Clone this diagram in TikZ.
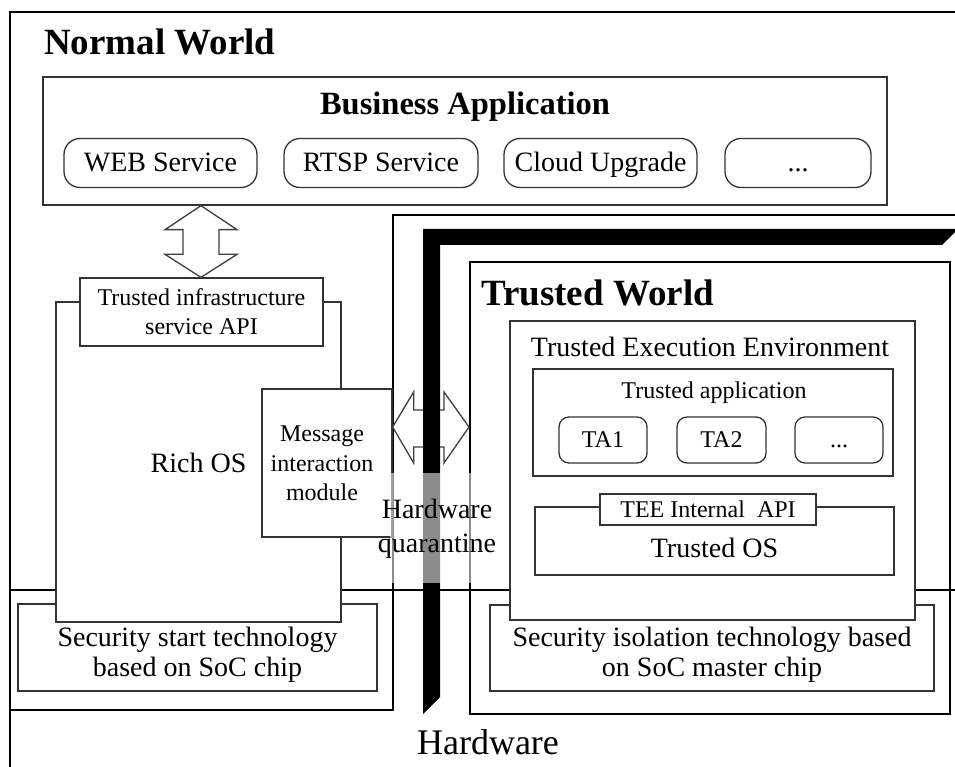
\documentclass[tikz,border=0pt]{standalone}
\usepackage{fontspec}
\setmainfont{Liberation Serif}
\usetikzlibrary{calc}
\newcommand{\fsz}[1]{\fontsize{#1}{#1}\selectfont}
\tikzset{
  frame/.style={draw=black, line width=2pt, inner sep=0pt},
  hwline/.style={draw=black, line width=1.6pt},
  box/.style={draw=black!80, line width=1.3pt, fill=white, inner sep=0pt},
  pill/.style={box, rounded corners=16pt, text height=24pt, text depth=6pt},
  tapill/.style={box, rounded corners=10pt, text height=19pt, text depth=5pt},
  blockarrow/.style={draw=black!75, line width=1.3pt, fill=white, line join=miter},
  wall/.style={fill=black},
  haze/.style={fill=white, fill opacity=0.55, draw=none},
  worldtitle/.style={anchor=west, inner sep=0pt, font=\fsz{37}\bfseries},
  small/.style={inner sep=0pt, align=center, font=\fontsize{24}{29.5}\selectfont},
  mid/.style={inner sep=0pt, align=center, font=\fontsize{28}{30}\selectfont},
}
\begin{document}
\begin{tikzpicture}[x=1pt,y=-1pt]
\useasboundingbox (0,0) rectangle (955,767);
\clip (0,0) rectangle (955,767);
\fill[white] (0,0) rectangle (955,767);

% outer frame, normal-world outline and hardware boundary
\draw[frame] (10,12) rectangle (975,790);
\draw[frame] (10,710) -- (393,710) -- (393,215) -- (975,215);
\draw[hwline] (10,590) -- (975,590);

% trusted world frame
\node[frame, minimum width=480pt, minimum height=452pt] (tw) at (710,488) {};
\node[worldtitle] (twtitle) at (481,293) {Trusted World};

% normal world
\node[worldtitle] (nwtitle) at (44,42) {Normal World};

\node[box, minimum width=844pt, minimum height=128pt] (biz) at (465,141) {};
\node[anchor=base, inner sep=0pt, font=\fsz{32.5}\bfseries] (biztitle) at (465,115) {Business Application};
\node[pill, minimum width=193pt, minimum height=49pt, font=\fsz{28}] (web) at (160.5,163) {WEB Service};
\node[pill, minimum width=194pt, minimum height=49pt, font=\fsz{28}] (rtsp) at (381,163) {RTSP Service};
\node[pill, minimum width=193pt, minimum height=49pt, font=\fsz{28}] (cloud) at (600.5,163) {Cloud Upgrade};
\node[pill, minimum width=146pt, minimum height=49pt, font=\fsz{28}] (more) at (798,163) {...};

% hardware layer, normal side
\node[box, minimum width=359pt, minimum height=87pt] (sst) at (197.5,647.5) {};
\node[mid] (ssttext) at (197.5,655) {Security start technology\\based on SoC chip};

% rich OS with its API and message module
\node[box, minimum width=285pt, minimum height=320pt] (rich) at (198.5,462) {};
\node[mid] (richtext) at (198.5,463) {Rich OS};
\node[box, minimum width=243pt, minimum height=68pt] (api) at (201.5,312) {};
\node[small] (apitext) at (201.5,311.5) {Trusted infrastructure\\service API};
\node[box, minimum width=130pt, minimum height=148pt] (msg) at (327,463) {};
\node[small] (msgtext) at (322,463.5) {Message\\interaction\\module};

% vertical double arrow: business application <-> API
\draw[blockarrow] let \p1=(biz.south), \p2=(api.north) in
  (201,\y1) -- (237,\y1-24) -- (219,\y1-24) -- (219,\y2+23) -- (237,\y2+23)
  -- (201,\y2) -- (165,\y2+23) -- (183,\y2+23) -- (183,\y1-24) -- (165,\y1-24) -- cycle;

% horizontal double arrow: message module <-> trusted world
\draw[blockarrow] let \p1=(msg.east), \p2=(tw.west) in
  (\x1,427) -- (\x1+21,392) -- (\x1+21,410) -- (\x2-25,410) -- (\x2-25,392)
  -- (\x2,427) -- (\x2-25,463) -- (\x2-25,447) -- (\x1+21,447) -- (\x1+21,463) -- cycle;

% isolation wall
\fill[wall] (423,229) -- (958,229) -- (942,245) -- (440,245) -- (440,697) -- (423,714) -- cycle;

% hardware layer, trusted side
\node[box, minimum width=444pt, minimum height=86pt] (sit) at (712,648) {};
\node[mid] (sittext) at (712,655) {Security isolation technology based\\on SoC master chip};

% trusted execution environment
\node[box, minimum width=405pt, minimum height=299pt] (tee) at (712.5,470.5) {};
\node[mid, anchor=base] (teetitle) at (710,356) {Trusted Execution Environment};
\node[box, minimum width=360pt, minimum height=107pt] (tapp) at (713,422.5) {};
\node[anchor=base, inner sep=0pt, font=\fsz{24}] (tapptitle) at (714,398) {Trusted application};
\node[tapill, minimum width=88pt, minimum height=46pt, font=\fsz{24}] (ta1) at (603,440) {TA1};
\node[tapill, minimum width=89pt, minimum height=46pt, font=\fsz{24}] (ta2) at (721.5,440) {TA2};
\node[tapill, minimum width=88pt, minimum height=46pt, font=\fsz{24}] (tamore) at (839,440) {...};
\node[box, minimum width=359pt, minimum height=68pt] (tos) at (714.5,541) {};
\node[mid, anchor=base] (tostext) at (714.5,557) {Trusted OS};
\node[box, minimum width=216pt, minimum height=31pt, font=\fsz{24}] (teeapi) at (708,509.5) {TEE Internal\ \ API};

% hardware quarantine label over the wall
\fill[haze] (390,473) rectangle (473,583);
\node[inner sep=0pt, align=center, font=\fontsize{28}{34}\selectfont] (hq) at (437,529) {Hardware\\quarantine};

% hardware label
\node[inner sep=0pt, font=\fsz{36}] (hw) at (488,742) {Hardware};
\end{tikzpicture}
\end{document}
